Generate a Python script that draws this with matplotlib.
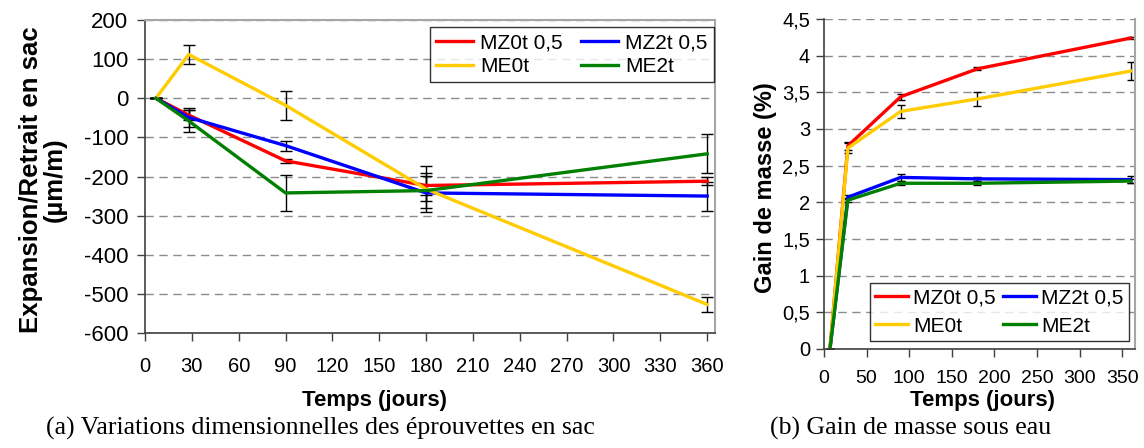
import matplotlib
matplotlib.use("Agg")
import matplotlib.pyplot as plt
from matplotlib.ticker import FixedLocator, FuncFormatter

plt.rcParams["font.family"] = ["Liberation Sans", "DejaVu Sans"]
plt.rcParams["axes.unicode_minus"] = False

# --- data ------------------------------------------------------------------
SERIES = ["MZ0t 0,5", "MZ2t 0,5", "ME0t", "ME2t"]
COLORS = ["#ff0000", "#0000ff", "#ffcc00", "#008000"]

# (a) expansion / retrait en sac (µm/m)
DAYS_A = [7, 28, 90, 180, 360]
EXP_MZ0 = [0, -43, -160, -223, -212]
EXP_MZ2 = [0, -49, -121, -242, -250]
EXP_ME0 = [0, 112, -18, -232, -527]
EXP_ME2 = [0, -58, -242, -236, -142]
ERR_MZ0 = [0, 12, 6, 25, 10]
ERR_MZ2 = [0, 25, 13, 20, 37]
ERR_ME0 = [0, 25, 37, 58, 20]
ERR_ME2 = [0, 27, 47, 45, 50]

# (b) gain de masse sous eau (%)
DAYS_B = [7, 28, 90, 180, 360]
GAIN_MZ0 = [0, 2.77, 3.44, 3.82, 4.24]
GAIN_MZ2 = [0, 2.07, 2.34, 2.32, 2.31]
GAIN_ME0 = [0, 2.74, 3.24, 3.41, 3.79]
GAIN_ME2 = [0, 2.03, 2.26, 2.26, 2.29]
GERR_MZ0 = [0, 0.05, 0.04, 0.02, 0.01]
GERR_MZ2 = [0, 0.03, 0.05, 0.03, 0.05]
GERR_ME0 = [0, 0.07, 0.09, 0.10, 0.12]
GERR_ME2 = [0, 0.03, 0.03, 0.03, 0.03]

XTICKS_A = list(range(0, 361, 30))
YTICKS_A = list(range(-600, 201, 100))
XTICKS_B = list(range(0, 351, 50))
YTICKS_B = [0, 0.5, 1, 1.5, 2, 2.5, 3, 3.5, 4, 4.5]

DARK = "#404040"
LIGHT = "#a6a6a6"
GRID = "#8c8c8c"

# legend is filled column by column: reorder so rows read MZ0t/MZ2t, ME0t/ME2t
LEG_ORDER = [0, 2, 1, 3]


def style_axes(ax, top_visible=True):
    ax.spines["left"].set_color(DARK)
    ax.spines["bottom"].set_color(DARK)
    ax.spines["left"].set_linewidth(1.2)
    ax.spines["bottom"].set_linewidth(1.2)
    ax.spines["right"].set_color(LIGHT)
    ax.spines["right"].set_linewidth(1.5)
    ax.spines["top"].set_color(LIGHT)
    ax.spines["top"].set_linewidth(1.5)
    ax.spines["top"].set_visible(top_visible)
    ax.grid(True, axis="y", color=GRID, linestyle=(0, (6, 4)), linewidth=1.0)
    ax.set_axisbelow(True)
    ax.tick_params(direction="out", length=6, width=1.0, color=DARK)


def add_legend(ax, loc, anchor, hlen, colsp, labsp, textpad, bpad):
    handles, labels = ax.get_legend_handles_labels()
    handles = [handles[i][0] for i in LEG_ORDER]
    labels = [labels[i] for i in LEG_ORDER]
    leg = fig.legend(
        handles, labels, ncol=2, loc=loc,
        bbox_to_anchor=anchor, bbox_transform=fig.transFigure,
        fontsize=15, frameon=True, fancybox=False, borderaxespad=0,
        handlelength=hlen, handletextpad=textpad, columnspacing=colsp,
        labelspacing=labsp, borderpad=bpad,
    )
    leg.get_frame().set_edgecolor("black")
    leg.get_frame().set_linewidth(1.0)
    return leg


fig = plt.figure(figsize=(11.44, 4.48), dpi=100)

# ---- (a) -------------------------------------------------------------------
ax1 = fig.add_axes([145 / 1144, 1 - 333 / 448, 570 / 1144, 313 / 448])
for vals, errs, col, lab in zip([EXP_MZ0, EXP_MZ2, EXP_ME0, EXP_ME2],
                                [ERR_MZ0, ERR_MZ2, ERR_ME0, ERR_ME2],
                                COLORS, SERIES):
    ax1.errorbar(DAYS_A, vals, yerr=errs, color=col, lw=2.4, label=lab,
                 ecolor="black", elinewidth=1.0, capsize=4, capthick=1.0)
ax1.set_xlim(0, 365)
ax1.set_ylim(-600, 200)
ax1.xaxis.set_major_locator(FixedLocator(XTICKS_A))
ax1.yaxis.set_major_locator(FixedLocator(YTICKS_A))
style_axes(ax1)
ax1.tick_params(axis="x", labelsize=14.5, pad=11)
ax1.tick_params(axis="y", labelsize=16, pad=6)
ax1.set_ylabel("Expansion/Retrait en sac\n(µm/m)", fontsize=18.5,
               fontweight="bold", linespacing=1.0)
ax1.yaxis.set_label_coords(-0.137, 0.49)
ax1.set_xlabel("Temps (jours)", fontsize=16, fontweight="bold")
ax1.xaxis.set_label_coords(0.402, -0.183)
add_legend(ax1, "upper right", (714 / 1144, 1 - 27 / 448),
           1.75, 0.9, 0.2, 0.34, 0.32)

# ---- (b) -------------------------------------------------------------------
ax2 = fig.add_axes([824 / 1144, 1 - 349 / 448, 311 / 1144, 330 / 448])
for vals, errs, col, lab in zip([GAIN_MZ0, GAIN_MZ2, GAIN_ME0, GAIN_ME2],
                                [GERR_MZ0, GERR_MZ2, GERR_ME0, GERR_ME2],
                                COLORS, SERIES):
    ax2.errorbar(DAYS_B, vals, yerr=errs, color=col, lw=2.4, label=lab,
                 ecolor="black", elinewidth=1.0, capsize=3, capthick=1.0)
ax2.set_xlim(0, 365)
ax2.set_ylim(0, 4.5)
ax2.xaxis.set_major_locator(FixedLocator(XTICKS_B))
ax2.yaxis.set_major_locator(FixedLocator(YTICKS_B))
ax2.yaxis.set_major_formatter(
    FuncFormatter(lambda v, p: f"{v:g}".replace(".", ",")))
style_axes(ax2, top_visible=False)
ax2.tick_params(axis="x", labelsize=14, pad=9)
ax2.tick_params(axis="y", labelsize=14.5, pad=4)
ax2.set_ylabel("Gain de masse (%)", fontsize=17, fontweight="bold")
ax2.yaxis.set_label_coords(-0.151, 0.49)
ax2.set_xlabel("Temps (jours)", fontsize=16, fontweight="bold")
ax2.xaxis.set_label_coords(0.511, -0.125)
add_legend(ax2, "lower right", (1129 / 1144, 1 - 341 / 448),
           1.6, 0.35, 0.45, 0.24, 0.25)

# ---- captions ------------------------------------------------------------
fig.text(320 / 1144, 1 - 428 / 448,
         "(a) Variations dimensionnelles des éprouvettes en sac",
         ha="center", va="center", fontsize=18.5, family="Liberation Serif")
fig.text(911 / 1144, 1 - 428 / 448, "(b) Gain de masse sous eau",
         ha="center", va="center", fontsize=18.5, family="Liberation Serif")

fig.savefig("out.png", dpi=100)
